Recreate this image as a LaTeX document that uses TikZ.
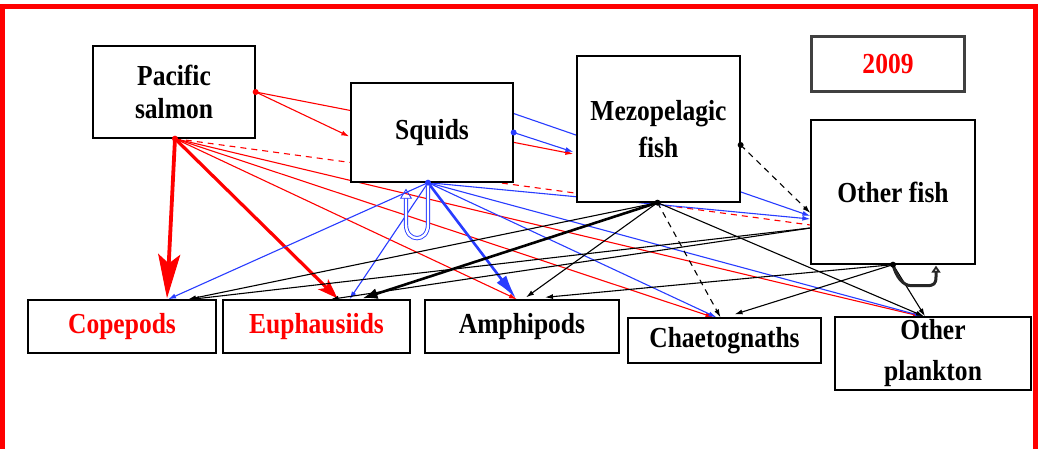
\documentclass[tikz,border=0pt]{standalone}
\usepackage{fontspec}
\setmainfont{Liberation Serif}
\newfontfamily\fwfont[FakeStretch=0.88]{Liberation Serif}
\usetikzlibrary{arrows.meta,calc}
\pgfdeclarelayer{back}
\pgfdeclarelayer{bg}
\pgfsetlayers{back,bg,main}
\definecolor{fwred}{RGB}{255,0,0}
\definecolor{fwblue}{RGB}{40,60,255}
\tikzset{
  box/.style={draw=black, line width=1.3pt, fill=white, inner sep=0pt, align=center,
    font=\fwfont\fontsize{29}{33}\selectfont\bfseries},
  thinln/.style={line width=1.1pt, -{Latex[length=8pt,width=5pt]}},
  rl/.style={thinln, draw=fwred},
  bl/.style={thinln, draw=fwblue},
  kl/.style={thinln, draw=black},
  dashln/.style={dash pattern=on 6pt off 5pt},
  dotmark/.style={circle, inner sep=0pt, minimum size=6pt},
}
\begin{document}
\begin{tikzpicture}[x=1pt,y=-1pt]
\useasboundingbox (0,0) rectangle (1038,448);
\begin{pgfonlayer}{back}
\fill[white] (0,0) rectangle (1038,448);
\end{pgfonlayer}

% boxes
\node[box, minimum width=162pt, minimum height=92pt] (ps) at (174,92) {Pacific\\salmon};
\node[box, minimum width=162pt, minimum height=99pt] (sq) at (432,132.5) {Squids};
\node[box, minimum width=163pt, minimum height=146pt] (mf) at (658.5,129) {Mezopelagic\\[4pt]fish};
\node[box, draw=black!75, line width=3.5pt, text=fwred, minimum width=153pt, minimum height=55pt] (yr) at (888,64) {2009};
\node[box, minimum width=164pt, minimum height=144pt] (of) at (893,192) {Other fish};
\node[box, text=fwred, minimum width=188pt, minimum height=53pt] (cop) at (122,326.5) {Copepods};
\node[box, text=fwred, minimum width=187pt, minimum height=53pt] (eup) at (316.5,326.5) {Euphausiids};
\node[box, minimum width=194pt, minimum height=53pt] (amp) at (522,326.5) {Amphipods};
\node[box, minimum width=193pt, minimum height=45pt] (cha) at (724.5,340.5) {Chaetognaths};
\node[box, minimum width=196pt, minimum height=73pt] (op) at (933,353.5) {Other\\[8pt]plankton};

% anchor points
\coordinate (psE) at (ps.east);
\coordinate (psS) at ($(ps.south)+(1,0)$);
\coordinate (sqE1) at ($(sq.east)+(0,-19)$);
\coordinate (sqE2) at (sq.east);
\coordinate (sqS) at ($(sq.south)+(-4,0)$);
\coordinate (mfS) at ($(mf.south)+(-1,0)$);
\coordinate (mfE) at ($(mf.east)+(0,16)$);
\coordinate (ofW) at ($(of.west)+(0,36)$);
\coordinate (ofS) at (of.south);
\coordinate (ofL) at ($(of.south)+(43,1)$);

\begin{pgfonlayer}{bg}
% Pacific salmon
\draw[rl] (psE) -- ($(mf.west)+(-3,25)$);
\draw[rl] (psE) -- ($(sq.west)+(-1,4)$);
\draw[rl, dashln, -] (psS) -- ($(of.west)+(0,33)$);
\draw[fwred, line width=3.8pt, -{Stealth[length=44pt,width=22pt,inset=9pt]}] (psS) -- ($(cop.north)+(45,-1)$);
\draw[fwred, line width=3.2pt, -{Stealth[length=20pt,width=14pt,inset=5pt]}] (psS) -- ($(eup.north)+(21,-1)$);
\draw[rl] (psS) -- ($(amp.north)+(-5,0)$);
\draw[rl] (psS) -- ($(cha.north)+(-11,0)$);
\draw[rl] (psS) -- ($(op.north)+(-12,0)$);
% Squids
\draw[bl] (sqS) -- ($(cop.north)+(46,0)$);
\draw[bl] (sqS) -- ($(eup.north)+(33,0)$);
\draw[fwblue, line width=2.6pt, -{Latex[length=24pt,width=12pt]}] (sqS) -- ($(amp.north)+(-6,-1)$);
\draw[bl] (sqS) -- ($(cha.north)+(-8,0)$);
\draw[bl] (sqS) -- ($(op.north)+(-10,0)$);
\draw[bl] (sqS) -- ($(of.west)+(0,27)$);
\draw[bl] (sqE1) -- ($(of.west)+(0,24)$);
\draw[bl] (sqE2) -- ($(mf.west)+(-3,23)$);
\draw[fwblue, line width=0.9pt, double=white, double distance=2.4pt, -{Triangle[open,length=10pt,width=12pt]}]
  (sqS) -- ++(0,42) .. controls +(0,18) and +(0,18) .. ++(-22,0) -- ($(sq.south)+(-26,6)$);
% Mezopelagic fish
\draw[kl] (mfS) -- ($(cop.north)+(66,0)$);
\draw[black, line width=2.6pt, -{Latex[length=15pt,width=11pt]}] (mfS) -- ($(eup.north)+(46,-1)$);
\draw[kl] (mfS) -- ($(amp.north)+(4,-2)$);
\draw[kl, dashln] (mfS) -- ($(cha.north)+(-4,0)$);
\draw[kl] (mfS) -- ($(op.north)+(-9,0)$);
\draw[kl, dashln] (mfE) -- ($(of.west)+(0,21)$);
% Other fish
\draw[kl] (ofW) -- ($(cop.north)+(69,0)$);
\draw[kl] (ofW) -- ($(eup.north)+(14,0)$);
\draw[kl] (ofS) -- ($(amp.north)+(23,-2)$);
\draw[kl] (ofS) -- ($(cha.north)+(10,-3)$);
\draw[kl] (ofS) -- ($(op.north)+(-8,0)$);
\draw[black!85, line width=3pt, line join=round, -{Triangle[open,length=7pt,width=9pt]}]
  (ofS) .. controls +(3,12) and +(-8,0) .. ($(of.south)+(18,21)$)
  -- ($(of.south)+(34,21)$)
  .. controls +(7,0) and +(0,7) .. ($(of.south)+(43,12)$)
  -- (ofL);
\end{pgfonlayer}

% start dots
\foreach \p/\c in {psE/fwred, psS/fwred, sqE2/fwblue, sqS/fwblue, mfS/black, mfE/black, ofS/black}
  \node[dotmark, fill=\c] at (\p) {};

% red frame
\draw[fwred, line width=5pt] (2.5,470) -- (2.5,6.5) -- (1035.5,6.5) -- (1035.5,470);
\end{tikzpicture}
\end{document}
